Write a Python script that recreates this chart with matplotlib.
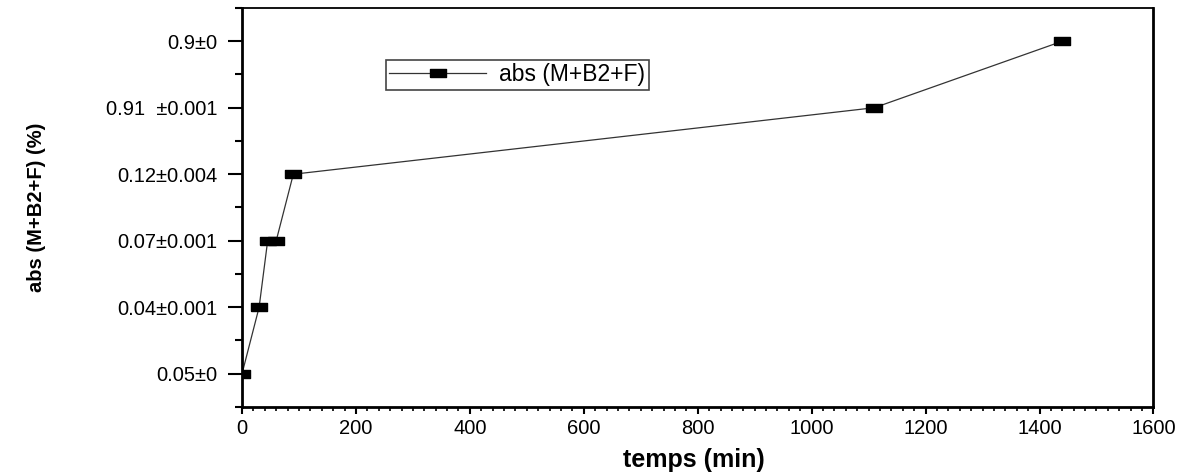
import matplotlib
matplotlib.use("Agg")
import matplotlib.pyplot as plt
from matplotlib.ticker import MultipleLocator

plt.rcParams['font.family'] = ['Liberation Sans', 'DejaVu Sans']

# temps de mesure (min) et absorbance lue a chaque temps
temps = [0, 30, 45, 60, 90, 1110, 1440]
absorbance = ["0.05±0", "0.04±0.001", "0.07±0.001", "0.07±0.001",
              "0.12±0.004", "0.91  ±0.001", "0.9±0"]
serie = "abs (M+B2+F)"

# marqueur rectangulaire plein (style Origin)
rect = [(-1, -0.55), (1, -0.55), (1, 0.55), (-1, 0.55), (-1, -0.55)]

fig = plt.figure(figsize=(11.97, 4.75), dpi=100)
ax = fig.add_axes([0.2022, 0.1432, 0.7614, 0.8400])

ax.plot(temps, absorbance, color='#333333', lw=0.9, marker=rect,
        markersize=11.5, markerfacecolor='black', markeredgecolor='black',
        label=serie)

ax.set_xlim(0, 1600)
ax.set_ylim(-0.5, 5.5)
ax.xaxis.set_major_locator(MultipleLocator(200))
ax.xaxis.set_minor_locator(MultipleLocator(20))
ax.yaxis.set_minor_locator(MultipleLocator(0.5))

ax.tick_params(axis='y', which='major', direction='out', length=10, width=1.5,
               labelsize=14.5, pad=8)
ax.tick_params(axis='y', which='minor', direction='out', length=5, width=1.5)
ax.tick_params(axis='x', which='major', direction='out', length=5, width=1.5,
               labelsize=14.5, pad=4)
ax.tick_params(axis='x', which='minor', direction='out', length=3, width=1.2)

for s in ['left', 'bottom', 'right']:
    ax.spines[s].set_linewidth(2)
ax.spines['top'].set_linewidth(1.3)

ax.set_xlabel("temps (min)", fontsize=18, fontweight='bold')
ax.set_ylabel("abs (M+B2+F) (%)", fontsize=14.5, fontweight='bold')
ax.xaxis.set_label_coords(0.496, -0.102)
ax.yaxis.set_label_coords(-0.215, 0.5)

leg = ax.legend(loc='upper left', bbox_to_anchor=(0.158, 0.87), fontsize=16.5,
                numpoints=1, handlelength=4.2, fancybox=False, framealpha=1,
                borderpad=0.15, handletextpad=0.6, borderaxespad=0)
leg.get_frame().set_edgecolor('#444444')
leg.get_frame().set_linewidth(1.2)

fig.savefig("out.png", dpi=100)
